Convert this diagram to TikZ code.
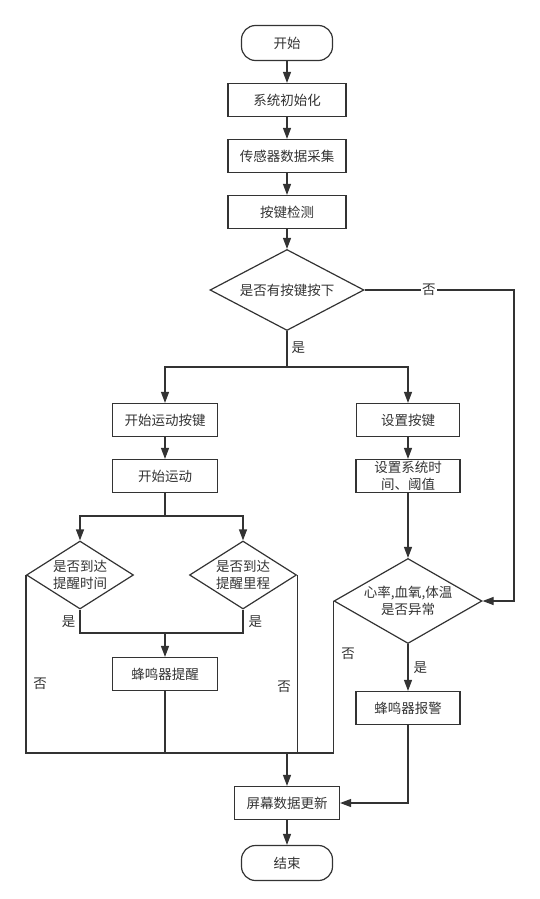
\documentclass[tikz,border=0pt]{standalone}
\usepackage{fontspec}
\setmainfont{Noto Sans CJK SC}
\usetikzlibrary{shapes.geometric,arrows.meta}
\definecolor{ink}{HTML}{333333}

\tikzset{
  box/.style={draw=ink, line width=1.2pt, minimum height=33pt, inner sep=0pt, text=ink, align=center},
  term/.style={box, rounded corners=14pt, minimum width=91pt, minimum height=35pt},
  decide/.style={draw=ink, line width=1.2pt, diamond, inner sep=0pt, text=ink, align=center},
  line/.style={draw=ink, line width=1.2pt},
  arrow/.style={line, -{Triangle[length=11pt,width=8pt]}},
  lab/.style={text=ink, inner sep=1pt}
}

\begin{document}
\begin{tikzpicture}[x=1pt, y=-1pt, font=\fontsize{13.5}{17}\selectfont]
\useasboundingbox (0,0) rectangle (540,899);

\node[term] (start) at (287,43) {开始};
\node[box, minimum width=118pt] (init) at (287,100) {系统初始化};
\node[box, minimum width=118pt] (sample) at (287,156) {传感器数据采集};
\node[box, minimum width=118pt] (keyscan) at (287,212) {按键检测};
\node[decide, minimum width=154pt, minimum height=81pt, shape aspect=2] (haskey) at (287,290) {是否有按键按下};
\node[box, minimum width=105pt] (runkey) at (165,420) {开始运动按键};
\node[box, minimum width=103pt] (setkey) at (408,420) {设置按键};
\node[box, minimum width=105pt] (run) at (165,476) {开始运动};
\node[box, minimum width=104pt] (setsys) at (408,476) {设置系统时\\间、阈值};
\node[decide, minimum width=107pt, minimum height=68pt, shape aspect=1.6] (reachtime) at (80,575) {是否到达\\提醒时间};
\node[decide, minimum width=107pt, minimum height=68pt, shape aspect=1.6] (reachdist) at (243,575) {是否到达\\提醒里程};
\node[decide, minimum width=148pt, minimum height=85pt, shape aspect=1.75] (abnormal) at (408,601) {心率,血氧,体温\\是否异常};
\node[box, minimum width=105pt] (remind) at (165,674) {蜂鸣器提醒};
\node[box, minimum width=104pt] (alarm) at (408,708) {蜂鸣器报警};
\node[box, minimum width=105pt] (screen) at (287,803) {屏幕数据更新};
\node[term] (stop) at (287,863) {结束};

\node[lab] (notime) at (40,684) {否};
\node[lab] (nodist) at (284,687) {否};
\node[lab] (noalarm) at (348,654) {否};

\coordinate (keysplit) at (287,367);
\coordinate (noturn) at (514,290);
\coordinate (runsplit) at (165,516);
\coordinate (remindjoin) at (165,633);
\coordinate (endjoin) at (287,753);

\draw[arrow] (start) -- (init);
\draw[arrow] (init) -- (sample);
\draw[arrow] (sample) -- (keyscan);
\draw[arrow] (keyscan) -- (haskey);
\draw[line] (haskey.south) -- node[lab, right, pos=0.45, xshift=3pt] {是} (keysplit);
\draw[arrow] (keysplit) -| (runkey);
\draw[arrow] (keysplit) -| (setkey);
\draw[arrow] (haskey.east) -- node[lab, fill=white, pos=0.43] {否} (noturn) |- (abnormal.east);

\draw[arrow] (runkey) -- (run);
\draw[line] (run) -- (runsplit);
\draw[arrow] (runsplit) -| (reachtime);
\draw[arrow] (runsplit) -| (reachdist);
\draw[line] (reachtime.south) |- node[lab, left, pos=0.25, xshift=-3pt] {是} (remindjoin);
\draw[line] (reachdist.south) |- node[lab, right, pos=0.25, xshift=4pt] {是} (remindjoin);
\draw[arrow] (remindjoin) -- (remind);

\draw[line] (reachtime.west) |- (endjoin);
\draw[line] (abnormal.west) |- (endjoin);
\draw[line] (reachdist.east) -- (reachdist.east |- endjoin);
\draw[line] (remind) -- (remind |- endjoin);
\draw[arrow] (endjoin) -- (screen);

\draw[arrow] (setkey) -- (setsys);
\draw[arrow] (setsys) -- (abnormal);
\draw[arrow] (abnormal) -- node[lab, right, xshift=4pt] {是} (alarm);
\draw[arrow] (alarm) |- (screen);
\draw[arrow] (screen) -- (stop);
\end{tikzpicture}
\end{document}
